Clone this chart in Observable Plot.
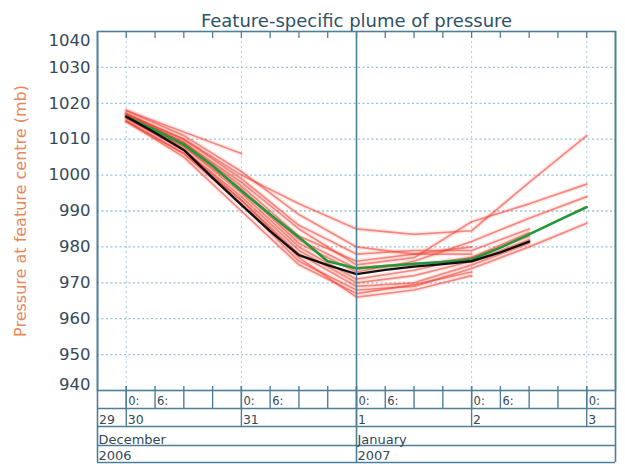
<!DOCTYPE html>
<html><head><meta charset="utf-8">
<script src="https://cdn.jsdelivr.net/npm/d3@7"></script>
<script src="https://cdn.jsdelivr.net/npm/@observablehq/plot@0.6"></script>
<style>
body{margin:0;background:#fff}
#chart{width:625px;height:464px}
</style></head><body><div id="chart"></div>
<script>
// hours after 2006-12-30 00:00 UTC
const hours6 = [0,6,12,18,24,30,36,42,48,54,60,66,72,78,84,90,96];
const hours12 = [0,12,24,36,48,60,72,84,96];
const blackP = [1016.3,1011.8,1007.0,999.2,991.7,984.4,977.7,974.9,972.4,973.6,974.5,975.2,976.0,978.5,981.5];
const greenP = [1016.3,1012.5,1008.5,1002.6,995.6,989.0,982.7,976.0,974.0,974.7,975.3,975.8,976.5,979.8,983.5,987.3,991.1];
const orangeP = [1016.8,1013.0,1009.0,1003.2,996.2,989.6,983.3,976.6,974.6,975.2,975.7,976.2,976.9,980.2,983.9,987.7,991.6];
const members = [
  [1018,1012,1006],
  [1017,1010,1000,992,985,983.5,984.5,998,1011],
  [1017,1009,998,985,975,977,987,992,997.5],
  [1016,1008,996,981,973,976,981.5,988,994],
  [1015,1006,992,976,968,969,974,980,986.6],
  [1016,1007,994,979,970,972,976,982],
  [1017,1009,997,983,976,978,980],
  [1015,1005,990,975,967,969.5,973],
  [1016,1008,995,980,971,973.5,977,984],
  [1017,1010,999,986,978,979,979,985],
  [1015,1006,993,978,969,970,975,981],
  [1018,1011,1001,989,980,978,978],
  [1016,1007,993,977,966,968,972],
  [1017,1009,996,982,974,975,977,983]
];
const yTicks = [1040,1030,1020,1010,1000,990,980,970,960,950,940];
const yGrid = [950,960,970,980,990,1000,1010,1020,1030];
const dayLabels = ["29","30","31","1","2","3"];
const monthLabels = ["December","January"];
const yearLabels = ["2006","2007"];

const base = Date.UTC(2006,11,30,0);
const H = 3600e3;
const T = h => new Date(base + h*H);
const xStart = new Date(Date.UTC(2006,11,29,18));
const xEnd = new Date(Date.UTC(2007,0,3,6));

const blackRows = blackP.map((p,i)=>({t:T(hours6[i]),p}));
const greenRows = greenP.map((p,i)=>({t:T(hours6[i]),p}));
const orangeRows = orangeP.map((p,i)=>({t:T(hours6[i]),p}));
const redRows = members.flatMap((m,k)=>m.map((p,i)=>({k,t:T(hours12[i]),p})));

const allTicks = d3.range(-6, 102+1, 6).map(T).filter(d=>d>xStart && d<xEnd);
const dayTicks = allTicks.filter(d=>d.getUTCHours()===0);
const hourLabelTicks = allTicks.filter(d=>d.getUTCHours()===0||d.getUTCHours()===6);
const dayStarts = [Date.UTC(2006,11,29),Date.UTC(2006,11,30),Date.UTC(2006,11,31),Date.UTC(2007,0,1),Date.UTC(2007,0,2),Date.UTC(2007,0,3)]
  .map((d,i)=>({x:new Date(Math.max(d,+xStart)), text:dayLabels[i]}));
const monthStarts = [Date.UTC(2006,11,1),Date.UTC(2007,0,1)].map((d,i)=>({x:new Date(Math.max(d,+xStart)), text:monthLabels[i]}));
const yearStarts = [Date.UTC(2006,0,1),Date.UTC(2007,0,1)].map((d,i)=>({x:new Date(Math.max(d,+xStart)), text:yearLabels[i]}));
const jan1 = new Date(Date.UTC(2007,0,1));

const frameC = "#4f7f98";
const gridC = "#8fc3df";
const textC = "#34495a";
const font = "DejaVu Sans, sans-serif";

const chart = Plot.plot({
  width: 625, height: 464,
  marginLeft: 97, marginRight: 10, marginTop: 31, marginBottom: 74,
  style: {fontFamily: font, background: "#fff"},
  x: {type: "utc", domain: [xStart, xEnd], axis: null},
  y: {domain: [940, 1040], axis: null},
  marks: [
    Plot.ruleY(yGrid, {stroke: gridC, strokeWidth: 1.3, strokeDasharray: "2,2.5"}),
    Plot.ruleX(dayTicks.filter(d=>+d!==+jan1), {stroke: gridC, strokeWidth: 1, strokeDasharray: "2,3", strokeOpacity: 0.8}),
    Plot.line(redRows, {x: "t", y: "p", z: "k", stroke: "#f0483a", strokeOpacity: 0.12, strokeWidth: 4.5}),
    Plot.line(redRows, {x: "t", y: "p", z: "k", stroke: "#f0483a", strokeOpacity: 0.6, strokeWidth: 1.7}),
    Plot.line(orangeRows, {x: "t", y: "p", stroke: "#f2a12a", strokeWidth: 1.6, dx: -1, dy: 1.5}),
    Plot.line(greenRows, {x: "t", y: "p", stroke: "#1e9a3e", strokeWidth: 2.6}),
    Plot.line(blackRows, {x: "t", y: "p", stroke: "#111", strokeWidth: 2.4}),
    // frame and axis boxes
    Plot.frame({stroke: frameC, strokeWidth: 1.6}),
    Plot.ruleX([xStart, xEnd, jan1], {stroke: frameC, strokeWidth: 1.6, insetBottom: -72}),
    Plot.ruleY([940], {stroke: frameC, strokeWidth: 1.4, dy: 18}),
    Plot.ruleY([940], {stroke: frameC, strokeWidth: 1.4, dy: 36}),
    Plot.ruleY([940], {stroke: frameC, strokeWidth: 1.4, dy: 55}),
    Plot.ruleY([940], {stroke: frameC, strokeWidth: 1.6, dy: 72}),
    Plot.tickX(allTicks, {stroke: frameC, strokeWidth: 1.3, insetBottom: 352}),
    Plot.tickX(allTicks, {stroke: frameC, strokeWidth: 1.4, insetTop: 355, insetBottom: -18}),
    Plot.tickX(dayTicks, {stroke: frameC, strokeWidth: 1.4, insetTop: 355, insetBottom: -36}),
    // bottom labels
    Plot.text(hourLabelTicks, {x: d=>d, text: d=>d.getUTCHours()+":", frameAnchor: "bottom", lineAnchor: "middle", textAnchor: "start", dx: 2, dy: 11, fontSize: 11.5, fill: textC}),
    Plot.text(dayStarts, {x: "x", text: "text", frameAnchor: "bottom", lineAnchor: "middle", textAnchor: "start", dx: 1.5, dy: 29, fontSize: 12.5, fill: textC}),
    Plot.text(monthStarts, {x: "x", text: "text", frameAnchor: "bottom", lineAnchor: "middle", textAnchor: "start", dx: 1, dy: 49, fontSize: 13, fill: textC}),
    Plot.text(yearStarts, {x: "x", text: "text", frameAnchor: "bottom", lineAnchor: "middle", textAnchor: "start", dx: 1, dy: 65.5, fontSize: 13, fill: textC}),
    // y tick labels
    Plot.text(yTicks.filter(d=>d>940 && d<1040), {y: d=>d, text: d=>String(d), frameAnchor: "left", textAnchor: "end", dx: -7, fontSize: 16.5, fill: textC}),
    Plot.text([1040], {y: d=>d, text: d=>String(d), frameAnchor: "left", textAnchor: "end", dx: -7, dy: 9, fontSize: 16.5, fill: textC}),
    Plot.text([940], {y: d=>d, text: d=>String(d), frameAnchor: "left", textAnchor: "end", dx: -7, dy: -6, fontSize: 16.5, fill: textC}),
    // titles
    Plot.text(["Pressure at feature centre (mb)"], {frameAnchor: "left", textAnchor: "middle", lineAnchor: "middle", rotate: -90, dx: -77, fontSize: 16, fill: "#e8875c"}),
    Plot.text(["Feature-specific plume of pressure"], {frameAnchor: "top", lineAnchor: "middle", dy: -10, fontSize: 18, fill: "#2e5266"})
  ]
});
document.getElementById("chart").append(chart);
</script>
</body></html>
